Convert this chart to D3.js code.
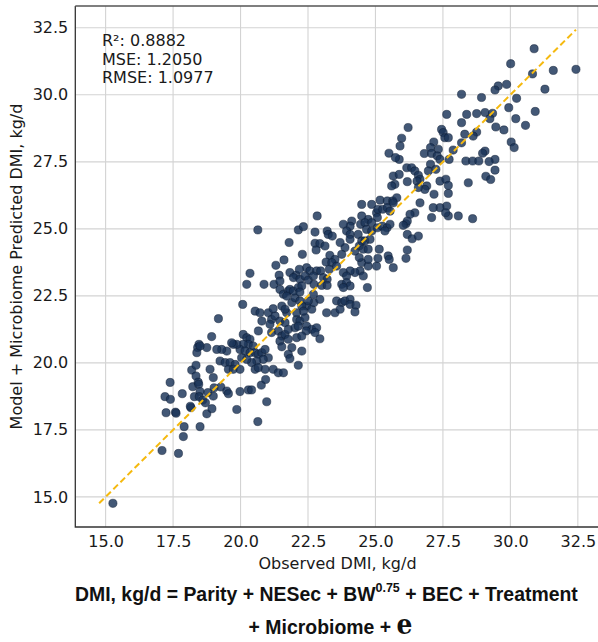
<!DOCTYPE html>
<html><head><meta charset="utf-8">
<script src="https://cdn.jsdelivr.net/npm/d3@7"></script>
<style>body{margin:0;background:#fff}svg{display:block}</style>
</head><body><svg id="c" width="598" height="642"></svg>
<script>
// Observed DMI (kg/d)
const observed = [
15.27,17.09,17.70,17.88,17.91,18.50,17.24,17.59,17.61,17.20,17.40,17.39,17.84,18.16,18.14,18.29,18.23,18.19,18.35,18.35,
18.43,18.45,18.50,18.47,18.60,18.70,18.75,18.79,18.94,18.99,19.02,19.27,19.49,19.55,19.86,19.98,20.29,20.41,20.64,20.77,
20.93,20.97,22.14,18.46,18.41,18.38,18.93,
20.35,20.23,20.87,21.24,21.43,21.46,21.83,22.06,20.08,19.18,20.54,20.72,20.79,21.03,21.15,21.28,21.46,21.65,21.46,21.59,
21.77,21.90,22.02,21.53,21.71,22.08,20.66,21.09,21.15,21.40,21.53,21.65,21.77,22.02,21.46,21.77,22.08,21.90,21.77,21.83,
21.53,20.10,20.23,20.35,20.29,20.47,20.10,19.98,20.17,20.35,20.54,20.66,20.79,20.91,21.03,20.84,20.60,20.41,20.23,20.04,
19.86,19.73,19.67,19.49,19.30,19.24,19.43,19.61,19.80,19.55,19.73,19.98,20.54,20.66,20.91,21.21,21.40,21.59,18.99,18.87,
18.75,18.50,19.12,
22.84,20.64,22.14,22.33,22.76,23.21,23.25,23.40,21.80,22.76,22.94,23.13,22.80,22.29,21.61,21.31,23.31,23.50,23.17,23.38,
22.45,22.18,22.57,22.82,22.97,23.29,23.56,21.96,22.20,22.39,22.51,22.72,23.07,23.21,23.01,23.21,21.83,21.96,22.14,22.27,
22.20,21.71,21.65,22.20,22.45,22.64,22.72,22.94,23.19,23.50,23.56,21.21,
24.49,24.73,25.04,24.43,24.24,24.06,23.81,23.93,24.55,23.75,23.93,24.06,23.81,24.70,23.75,23.87,24.06,24.06,23.69,24.28,
24.24,22.20,22.39,22.14,22.45,22.64,22.43,22.27,22.94,22.27,22.70,22.70,22.51,22.27,22.33,22.08,22.82,22.76,
25.88,25.66,25.72,25.60,25.88,25.17,25.44,25.64,25.79,24.86,24.49,25.04,25.09,25.07,25.27,25.44,25.54,25.66,24.73,24.49,
24.45,24.12,24.06,23.81,24.61,24.86,24.67,24.86,25.07,25.25,25.43,25.54,25.35,23.93,24.06,24.06,23.87,23.69,24.36,24.49,
24.61,24.80,24.40,24.55,24.73,25.14,25.09,25.47,25.51,24.24,24.40,24.73,23.75,
27.64,28.38,28.19,26.21,27.45,27.51,27.57,27.70,28.31,25.97,25.91,27.16,27.04,27.33,27.88,28.19,25.50,25.74,26.81,27.08,
27.29,27.39,27.73,28.35,27.04,26.96,27.24,26.16,26.34,26.46,26.59,26.65,26.90,26.83,26.54,27.39,27.61,27.70,27.70,27.17,
26.59,26.65,27.64,27.39,27.14,28.07,27.70,27.08,28.44,
30.88,30.01,31.59,32.43,30.82,31.28,29.86,29.55,29.43,28.19,28.93,30.23,29.94,30.92,28.75,29.06,29.34,29.24,30.20,
30.56,29.46,29.76,28.75,28.62,30.03,30.14,29.06,28.97,29.43,29.21,28.60,28.83,29.43,29.09,29.27,
28.60,27.60,26.18,26.36,26.59,26.18,26.13,25.66,26.13,26.46,26.28,26.18,26.03,26.18
];
// Model + Microbiome predicted DMI (kg/d)
const predicted = [
14.76,16.73,16.62,17.25,17.62,17.62,18.14,18.16,18.12,18.74,18.64,19.27,18.85,18.33,18.38,18.74,19.11,19.73,19.91,19.51,
19.28,19.20,18.93,18.74,18.61,18.51,18.10,18.89,18.29,18.76,19.07,19.10,18.95,18.85,18.26,18.93,18.99,18.99,17.81,19.17,
19.38,18.55,19.91,20.69,20.57,20.38,20.98,
23.34,22.93,22.93,22.93,23.27,23.05,23.37,23.27,22.18,21.65,21.93,21.87,21.56,21.87,21.62,21.75,21.56,21.50,22.74,22.56,
22.68,22.25,22.43,22.12,21.87,21.62,21.19,21.44,21.13,21.19,21.00,21.06,21.25,21.31,20.81,20.88,20.94,20.57,20.32,20.16,
20.60,21.06,20.94,20.88,20.69,20.63,20.69,20.50,20.44,20.38,20.38,20.32,20.38,20.50,20.19,20.13,20.07,20.01,20.13,20.19,
20.69,20.69,20.75,20.44,20.50,20.07,20.01,20.01,19.94,19.76,19.76,19.76,19.76,19.82,19.76,19.76,19.63,19.63,19.45,19.76,
20.57,20.63,20.50,
25.48,24.96,24.96,25.08,24.88,24.92,24.79,24.73,24.49,24.46,24.45,24.36,24.21,24.05,23.84,23.64,24.01,23.86,23.76,23.74,
23.55,23.49,23.43,23.43,23.43,23.49,23.61,23.18,23.12,23.24,23.09,22.93,23.18,23.12,22.89,22.89,22.74,22.68,22.81,22.87,
22.64,22.49,22.00,22.31,22.12,22.00,22.25,22.37,21.87,21.87,22.31,22.02,
23.74,23.61,23.61,23.43,23.37,23.43,23.37,23.24,23.24,22.93,22.99,22.87,22.81,22.81,22.25,22.31,22.37,22.18,22.00,22.15,
21.90,21.56,21.69,21.37,21.37,21.25,21.19,21.00,20.90,20.44,23.24,22.56,22.31,22.12,21.93,21.87,21.31,21.13,
27.59,26.97,26.66,26.60,27.03,26.07,26.04,26.04,26.16,25.91,25.91,25.60,25.73,25.42,25.73,25.79,25.66,25.97,25.35,25.48,
25.17,25.29,25.10,25.17,25.23,25.23,24.98,24.92,25.04,25.10,25.04,25.17,24.92,24.92,24.79,24.61,24.30,24.49,24.79,24.55,
24.55,24.61,24.36,24.24,24.24,24.24,23.90,23.99,23.86,24.17,23.93,23.86,24.05,
29.27,29.27,28.96,28.78,28.71,28.59,28.40,28.40,28.53,28.38,28.09,28.24,28.03,27.97,27.94,28.21,27.82,27.66,27.81,27.81,
27.72,27.59,27.59,27.53,27.41,27.16,27.22,27.28,27.28,27.16,27.00,26.85,26.60,26.47,26.78,26.78,26.85,26.62,26.32,26.29,
26.54,25.97,25.85,25.79,25.79,25.48,25.48,25.42,26.72,
31.72,31.16,30.91,30.95,30.78,30.21,30.39,30.33,30.18,30.02,29.90,29.87,29.52,29.38,29.30,29.34,29.31,29.11,29.11,
28.86,28.80,28.69,28.61,28.46,28.24,28.03,27.90,27.82,27.59,27.51,27.53,27.53,27.19,26.96,26.84,
25.38,25.60,24.79,24.63,24.73,24.21,23.90,23.55,25.19,25.60,25.54,25.29,25.13,26.76
];
const tickValues = [15, 17.5, 20, 22.5, 25, 27.5, 30, 32.5];
const statsLines = ["R\u00b2: 0.8882", "MSE: 1.2050", "RMSE: 1.0977"];
const xLabel = "Observed DMI, kg/d";
const yLabel = "Model + Microbiome Predicted DMI, kg/d";

const points = observed.map((o, i) => ({o, p: predicted[i]}));

const svg = d3.select("#c");
const L = 75.3, T = 6, R = 599.8, B = 527;

const lo = Math.min(d3.min(observed), d3.min(predicted));
const hi = Math.max(d3.max(observed), d3.max(predicted));
const pad = (hi - lo) * 0.05;
const x = d3.scaleLinear().domain([lo - pad, hi + pad]).range([L, R]);
const y = d3.scaleLinear().domain([lo - pad, hi + pad]).range([B, T]);

// grid
const g = svg.append("g");
g.selectAll(".gx").data(tickValues).join("line")
  .attr("x1", d => x(d)).attr("x2", d => x(d)).attr("y1", T).attr("y2", B)
  .attr("stroke", "#d3d3d3").attr("stroke-width", 1.1);
g.selectAll(".gy").data(tickValues).join("line")
  .attr("y1", d => y(d)).attr("y2", d => y(d)).attr("x1", L).attr("x2", R)
  .attr("stroke", "#d3d3d3").attr("stroke-width", 1.1);

// axes (labels only, no tick marks)
const xAxis = svg.append("g").attr("transform", `translate(0,${B})`)
  .call(d3.axisBottom(x).tickValues(tickValues).tickFormat(d3.format(".1f")).tickSize(0).tickPadding(9));
const yAxis = svg.append("g").attr("transform", `translate(${L},0)`)
  .call(d3.axisLeft(y).tickValues(tickValues).tickFormat(d3.format(".1f")).tickSize(0).tickPadding(7));
[xAxis, yAxis].forEach(a => {
  a.select(".domain").remove();
  a.selectAll("text").attr("font-family", "DejaVu Sans").attr("font-size", 16).attr("fill", "#1a1a1a");
});

// points
svg.append("g").selectAll("circle").data(points).join("circle")
  .attr("cx", d => x(d.o)).attr("cy", d => y(d.p)).attr("r", 4.1)
  .attr("fill", "#1a3358").attr("fill-opacity", 0.82)
  .attr("stroke", "#0b1a30").attr("stroke-width", 0.6).attr("stroke-opacity", 0.8);

// identity line
svg.append("line")
  .attr("x1", x(lo)).attr("y1", y(lo)).attr("x2", x(hi)).attr("y2", y(hi))
  .attr("stroke", "#f5b90f").attr("stroke-width", 2).attr("stroke-dasharray", "6.5,3.5");

// spines
svg.append("path").attr("d", `M${L},${T}V${B}H${R}`).attr("fill", "none").attr("stroke", "#333").attr("stroke-width", 1.3);
svg.append("line").attr("x1", L).attr("x2", R).attr("y1", T).attr("y2", T).attr("stroke", "#555").attr("stroke-width", 1.3);

// stats text
svg.append("g").selectAll("text").data(statsLines).join("text")
  .attr("x", 102).attr("y", (d, i) => 46 + i * 18.5)
  .attr("font-family", "DejaVu Sans").attr("font-size", 16).attr("fill", "#1a1a1a")
  .text(d => d);

// axis labels
svg.append("text").attr("x", (L + R) / 2).attr("y", 569).attr("text-anchor", "middle")
  .attr("font-family", "DejaVu Sans").attr("font-size", 16).attr("fill", "#1a1a1a").text(xLabel);
svg.append("text").attr("transform", `translate(22,${(T + B) / 2}) rotate(-90)`).attr("text-anchor", "middle")
  .attr("font-family", "DejaVu Sans").attr("font-size", 16).attr("fill", "#1a1a1a").text(yLabel);

// formula caption
const f1 = svg.append("text").attr("font-family", "Liberation Sans, Arial, sans-serif").attr("font-weight", "bold")
  .attr("font-size", 21).attr("fill", "#111").attr("y", 601);
f1.append("tspan").text("DMI, kg/d = Parity + NESec + BW");
f1.append("tspan").attr("font-size", 13.5).attr("dy", -8.5).text("0.75");
f1.append("tspan").attr("dy", 8.5).text(" + BEC + Treatment");
const w1 = f1.node().getComputedTextLength();
const target1 = 503, sx1 = target1 / w1;
f1.attr("transform", `translate(75,0) scale(${sx1},1)`);

const f2 = svg.append("text").attr("font-family", "Liberation Sans, Arial, sans-serif").attr("font-weight", "bold")
  .attr("font-size", 21).attr("fill", "#111").attr("y", 634);
f2.append("tspan").text("+ Microbiome + ");
f2.append("tspan").attr("font-family", "DejaVu Serif").attr("font-weight", "bold").attr("font-size", 27).text("e");
const w2 = f2.node().getComputedTextLength() * sx1;
f2.attr("transform", `translate(${(75 + 578) / 2 + 4 - w2 / 2},0) scale(${sx1},1)`);
</script>
</body></html>
